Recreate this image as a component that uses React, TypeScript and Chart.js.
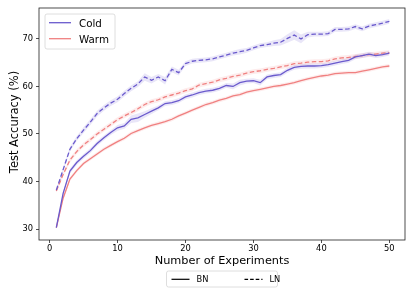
import { useEffect, useRef } from "react";
import { Chart, registerables } from "chart.js";

Chart.register(...registerables);

const experiments = [
  1, 2, 3, 4, 5, 6, 7, 8, 9, 10, 11, 12, 13, 14, 15, 16, 17, 18, 19, 20, 21, 22, 23, 24, 25,
  26, 27, 28, 29, 30, 31, 32, 33, 34, 35, 36, 37, 38, 39, 40, 41, 42, 43, 44, 45, 46, 47, 48, 49, 50,
];

const coldBN = [
  30.3, 37.5, 42.2, 44.0, 45.3, 46.5, 48.0, 49.2, 50.3, 51.3,
  51.7, 53.1, 53.4, 54.1, 54.8, 55.5, 56.4, 56.6, 57.0, 57.8,
  58.2, 58.7, 59.0, 59.2, 59.6, 60.2, 60.0, 60.8, 61.1, 61.2,
  60.8, 62.0, 62.3, 62.5, 63.4, 64.0, 64.2, 64.3, 64.3, 64.4,
  64.6, 64.9, 65.2, 65.5, 66.2, 66.5, 66.8, 66.5, 66.7, 67.0,
];
const coldLN = [
  38.2, 42.5, 46.8, 49.0, 50.8, 52.5, 54.3, 55.5, 56.5, 57.3,
  58.5, 59.6, 60.5, 62.0, 61.3, 62.0, 61.2, 63.6, 62.9, 64.8,
  65.3, 65.5, 65.6, 65.8, 66.2, 66.6, 67.0, 67.3, 67.6, 68.1,
  68.6, 68.8, 69.1, 69.3, 70.1, 70.8, 70.0, 70.9, 71.0, 71.0,
  71.1, 72.0, 72.0, 72.1, 72.6, 72.1, 72.7, 73.0, 73.3, 73.7,
];
const warmBN = [
  30.3, 36.5, 40.5, 42.3, 43.8, 44.8, 45.8, 46.8, 47.6, 48.4,
  49.1, 50.1, 50.7, 51.3, 51.8, 52.2, 52.6, 53.1, 53.8, 54.4,
  55.0, 55.6, 56.2, 56.6, 57.1, 57.5, 58.0, 58.3, 58.8, 59.1,
  59.4, 59.7, 60.0, 60.2, 60.5, 60.8, 61.2, 61.6, 61.9, 62.2,
  62.4, 62.7, 62.8, 62.9, 62.9, 63.2, 63.5, 63.8, 64.1, 64.3,
];
const warmLN = [
  38.0, 41.5, 44.5, 46.3, 47.7, 48.8, 50.0, 51.0, 52.0, 53.0,
  53.8, 54.5, 55.3, 56.2, 56.8, 57.2, 57.8, 58.2, 58.6, 59.1,
  59.5, 60.3, 60.6, 60.9, 61.4, 61.7, 62.1, 62.4, 62.8, 63.1,
  63.3, 63.6, 63.8, 64.1, 64.4, 64.8, 64.9, 65.1, 65.2, 65.2,
  65.4, 65.8, 66.0, 66.1, 66.3, 66.5, 66.7, 66.8, 67.0, 67.1,
];

const coldBNStd = [
  0.3, 0.4, 0.5, 0.5, 0.5, 0.5, 0.5, 0.5, 0.5, 0.6,
  0.6, 0.8, 0.9, 0.7, 0.6, 0.5, 0.5, 0.5, 0.5, 0.5,
  0.5, 0.5, 0.5, 0.5, 0.5, 0.5, 0.6, 0.6, 0.5, 0.5,
  0.6, 0.5, 0.5, 0.5, 0.5, 0.5, 0.5, 0.5, 0.5, 0.5,
  0.5, 0.5, 0.5, 0.5, 0.5, 0.5, 0.5, 0.5, 0.5, 0.5,
];
const coldLNStd = [
  0.3, 0.4, 0.5, 0.5, 0.6, 0.6, 0.6, 0.6, 0.6, 0.6,
  0.6, 0.6, 0.6, 0.8, 0.7, 0.6, 0.8, 0.6, 0.6, 0.5,
  0.5, 0.5, 0.5, 0.5, 0.5, 0.5, 0.5, 0.6, 0.5, 0.5,
  0.5, 0.5, 0.6, 0.7, 0.9, 1.0, 0.9, 0.6, 0.5, 0.5,
  0.5, 0.5, 0.5, 0.5, 0.5, 0.5, 0.5, 0.5, 0.5, 0.5,
];
const warmBNStd = [
  0.3, 0.4, 0.4, 0.4, 0.4, 0.4, 0.4, 0.4, 0.4, 0.4,
  0.4, 0.4, 0.4, 0.4, 0.4, 0.4, 0.4, 0.4, 0.4, 0.4,
  0.4, 0.4, 0.4, 0.4, 0.4, 0.4, 0.4, 0.4, 0.4, 0.4,
  0.4, 0.4, 0.4, 0.4, 0.4, 0.4, 0.4, 0.4, 0.4, 0.4,
  0.4, 0.4, 0.4, 0.4, 0.4, 0.4, 0.4, 0.4, 0.4, 0.4,
];
const warmLNStd = [
  0.3, 0.4, 0.5, 0.5, 0.5, 0.5, 0.5, 0.5, 0.5, 0.5,
  0.5, 0.5, 0.5, 0.5, 0.5, 0.5, 0.5, 0.5, 0.5, 0.5,
  0.5, 0.5, 0.5, 0.5, 0.5, 0.5, 0.5, 0.5, 0.5, 0.5,
  0.5, 0.5, 0.5, 0.5, 0.5, 0.5, 0.5, 0.5, 0.5, 0.5,
  0.5, 0.5, 0.5, 0.5, 0.5, 0.5, 0.5, 0.5, 0.5, 0.5,
];

const xTicks = [0, 10, 20, 30, 40, 50];
const yTicks = [30, 40, 50, 60, 70];
const colorLegendLabels = ["Cold", "Warm"];
const styleLegendLabels = ["BN", "LN"];
const xTitle = "Number of Experiments";
const yTitle = "Test Accuracy (%)";

const COLD = "#6a5acd";
const WARM = "#f08080";
const COLD_FILL = "rgba(106,90,205,0.15)";
const WARM_FILL = "rgba(240,128,128,0.15)";
const FONT = "'DejaVu Sans', sans-serif";
const DASH = [4.5, 2.5];

function points(vals: number[], offs?: number[], sign = 0) {
  return experiments.map((x, i) => ({ x, y: vals[i] + (offs ? sign * offs[i] : 0) }));
}

function series(vals: number[], std: number[], color: string, fill: string, dashed: boolean) {
  return [
    {
      data: points(vals, std, 1),
      borderWidth: 0,
      pointRadius: 0,
      backgroundColor: fill,
      fill: "+1",
      order: 2,
    },
    {
      data: points(vals, std, -1),
      borderWidth: 0,
      pointRadius: 0,
      backgroundColor: fill,
      fill: false,
      order: 2,
    },
    {
      data: points(vals),
      borderColor: color,
      borderWidth: 1.3,
      borderDash: dashed ? DASH : [],
      pointRadius: 0,
      fill: false,
      tension: 0,
      order: 1,
    },
  ];
}

const overlayPlugin = {
  id: "overlay",
  afterDraw(chart: any) {
    const { ctx, chartArea: a } = chart;
    ctx.save();
    // frame
    ctx.strokeStyle = "#222";
    ctx.lineWidth = 0.8;
    ctx.strokeRect(a.left, a.top, a.right - a.left, a.bottom - a.top);

    ctx.fillStyle = "#000";
    // x title
    ctx.font = `11.3px ${FONT}`;
    ctx.textAlign = "center";
    ctx.textBaseline = "alphabetic";
    ctx.fillText(xTitle, (a.left + a.right) / 2, 264);
    // y title
    ctx.save();
    ctx.font = `11.5px ${FONT}`;
    ctx.translate(18.3, 122);
    ctx.rotate(-Math.PI / 2);
    ctx.fillText(yTitle, 0, 0);
    ctx.restore();

    // color legend (top-left)
    const lx = a.left + 6;
    const ly = a.top + 6;
    ctx.beginPath();
    ctx.roundRect(lx, ly, 70, 35, 2);
    ctx.fillStyle = "rgba(255,255,255,0.8)";
    ctx.fill();
    ctx.strokeStyle = "#d6d6d6";
    ctx.lineWidth = 0.8;
    ctx.stroke();
    const cols = [COLD, WARM];
    colorLegendLabels.forEach((lab, i) => {
      const y = ly + 8.7 + i * 16;
      ctx.strokeStyle = cols[i];
      ctx.lineWidth = 1.3;
      ctx.beginPath();
      ctx.moveTo(lx + 4, y);
      ctx.lineTo(lx + 26, y);
      ctx.stroke();
      ctx.fillStyle = "#000";
      ctx.font = `10.3px ${FONT}`;
      ctx.textAlign = "left";
      ctx.textBaseline = "alphabetic";
      ctx.fillText(lab, lx + 34, y + 4.3);
    });

    // style legend (bottom)
    const bw = 111;
    const bx = (a.left + a.right) / 2 - bw / 2;
    const by = 271;
    ctx.beginPath();
    ctx.roundRect(bx, by, bw, 16, 2);
    ctx.fillStyle = "rgba(255,255,255,0.8)";
    ctx.fill();
    ctx.strokeStyle = "#d6d6d6";
    ctx.lineWidth = 0.8;
    ctx.stroke();
    styleLegendLabels.forEach((lab, i) => {
      const x0 = bx + 5 + i * 73;
      const y = by + 8.3;
      ctx.strokeStyle = "#000";
      ctx.lineWidth = 1.2;
      ctx.setLineDash(i === 1 ? [3.6, 2] : []);
      ctx.beginPath();
      ctx.moveTo(x0, y);
      ctx.lineTo(x0 + 18, y);
      ctx.stroke();
      ctx.setLineDash([]);
      ctx.fillStyle = "#000";
      ctx.font = `8.3px ${FONT}`;
      ctx.textAlign = "left";
      ctx.textBaseline = "alphabetic";
      ctx.fillText(lab, x0 + 25, y + 3);
    });
    ctx.restore();
  },
};

export default function App() {
  const ref = useRef<HTMLCanvasElement>(null);
  useEffect(() => {
    if (!ref.current) return;
    const tickFont = { family: FONT, size: 8.3 };
    const chart = new Chart(ref.current, {
      type: "line",
      data: {
        datasets: [
          ...series(coldBN, coldBNStd, COLD, COLD_FILL, false),
          ...series(coldLN, coldLNStd, COLD, COLD_FILL, true),
          ...series(warmBN, warmBNStd, WARM, WARM_FILL, false),
          ...series(warmLN, warmLNStd, WARM, WARM_FILL, true),
        ] as any,
      },
      options: {
        animation: false,
        responsive: false,
        devicePixelRatio: 1,
        layout: { padding: { top: 8, right: 10, left: 0, bottom: 0 } },
        plugins: { legend: { display: false }, tooltip: { enabled: false } },
        scales: {
          x: {
            type: "linear",
            min: -1.55,
            max: 52.3,
            afterBuildTicks: (s: any) => {
              s.ticks = xTicks.map((v) => ({ value: v }));
            },
            afterFit: (s: any) => {
              s.height = 57;
            },
            ticks: { font: tickFont, color: "#000", padding: 1, maxRotation: 0, autoSkip: false },
            grid: { drawOnChartArea: false, drawTicks: true, tickLength: 3, color: "#222", lineWidth: 0.8 },
            border: { display: false },
          },
          y: {
            type: "linear",
            min: 27.7,
            max: 76.5,
            afterBuildTicks: (s: any) => {
              s.ticks = yTicks.map((v) => ({ value: v }));
            },
            afterFit: (s: any) => {
              s.width = 39;
            },
            ticks: { font: tickFont, color: "#000", padding: 3 },
            grid: { drawOnChartArea: false, drawTicks: true, tickLength: 3, color: "#222", lineWidth: 0.8 },
            border: { display: false },
          },
        },
      } as any,
      plugins: [overlayPlugin],
    });
    return () => chart.destroy();
  }, []);
  return (
    <div style={{ position: "fixed", left: 0, top: 0, width: 415, height: 297, background: "#fff" }}>
      <canvas ref={ref} width={415} height={297} />
    </div>
  );
}
